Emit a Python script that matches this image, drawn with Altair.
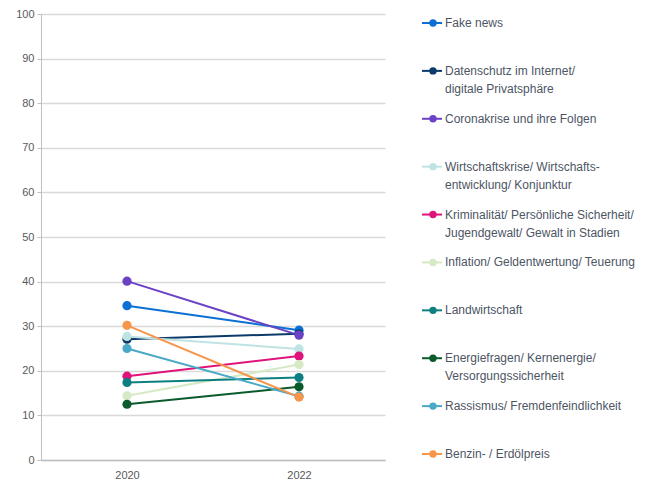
import altair as alt
import pandas as pd

years = ["2020", "2022"]
series = [
    "Fake news",
    "Datenschutz im Internet/ digitale Privatsphäre",
    "Coronakrise und ihre Folgen",
    "Wirtschaftskrise/ Wirtschaftsentwicklung/ Konjunktur",
    "Kriminalität/ Persönliche Sicherheit/ Jugendgewalt/ Gewalt in Stadien",
    "Inflation/ Geldentwertung/ Teuerung",
    "Landwirtschaft",
    "Energiefragen/ Kernenergie/ Versorgungssicherheit",
    "Rassismus/ Fremdenfeindlichkeit",
    "Benzin- / Erdölpreis",
]
label_line1 = [
    "Fake news",
    "Datenschutz im Internet/",
    "Coronakrise und ihre Folgen",
    "Wirtschaftskrise/ Wirtschafts-",
    "Kriminalität/ Persönliche Sicherheit/",
    "Inflation/ Geldentwertung/  Teuerung",
    "Landwirtschaft",
    "Energiefragen/ Kernenergie/",
    "Rassismus/ Fremdenfeindlichkeit",
    "Benzin- / Erdölpreis",
]
label_line2 = [
    "",
    "digitale Privatsphäre",
    "",
    "entwicklung/ Konjunktur",
    "Jugendgewalt/ Gewalt in Stadien",
    "",
    "",
    "Versorgungssicherheit",
    "",
    "",
]
values_2020 = [34.6, 27.1, 40.1, 27.7, 18.8, 14.4, 17.4, 12.5, 25.0, 30.2]
values_2022 = [29.1, 28.3, 28.0, 24.9, 23.3, 21.4, 18.5, 16.4, 14.3, 14.1]
colors = [
    "#0b6fd4", "#0c3a6b", "#6b42c6", "#bfe3e2", "#e0137a",
    "#d5eac4", "#0e7f80", "#0b5a2c", "#4aa9c6", "#f7954a",
]

rows = []
for i, s in enumerate(series):
    rows.append({"series": s, "year": years[0], "value": values_2020[i], "idx": i})
    rows.append({"series": s, "year": years[1], "value": values_2022[i], "idx": i})
df = pd.DataFrame(rows)

leg = pd.DataFrame({"series": series, "l1": label_line1, "l2": label_line2,
                    "idx": list(range(len(series)))})

FONT = "Liberation Sans"
color_scale = alt.Scale(domain=series, range=colors)

base = alt.Chart(df).encode(
    x=alt.X("year:O", scale=alt.Scale(type="point", padding=0.5),
            axis=alt.Axis(title=None, labelAngle=0, ticks=False, domainColor="#bfbfbf",
                          domainWidth=1.5, labelColor="#595959", labelFontSize=11,
                          labelFont=FONT, labelPadding=9, grid=False)),
    y=alt.Y("value:Q", scale=alt.Scale(domain=[0, 100], nice=False),
            axis=alt.Axis(title=None, values=list(range(0, 101, 10)), gridColor="#d9d9d9",
                          gridWidth=1.5, domainColor="#bfbfbf", tickColor="#bfbfbf",
                          tickSize=4, labelColor="#595959", labelFontSize=11,
                          labelFont=FONT, labelPadding=3)),
    color=alt.Color("series:N", scale=color_scale, legend=None),
    order=alt.Order("idx:Q"),
)

lines = base.mark_line(strokeWidth=2)
points = base.mark_circle(size=85, opacity=1)
main = alt.layer(lines, points).properties(width=344, height=446)

ly = alt.Y("series:N", sort=series,
           scale=alt.Scale(type="point", range=[9, 440], padding=0), axis=None)
lbase = alt.Chart(leg)
lrule = lbase.mark_rule(strokeWidth=2).encode(
    x=alt.value(7), x2=alt.value(27), y=ly,
    color=alt.Color("series:N", scale=color_scale, legend=None))
ldot = lbase.mark_circle(size=55, opacity=1).encode(
    x=alt.value(18), y=ly,
    color=alt.Color("series:N", scale=color_scale, legend=None))
ltext1 = lbase.mark_text(align="left", baseline="middle", font=FONT, fontSize=12,
                         color="#4d5564").encode(x=alt.value(30), y=ly, text="l1:N")
ltext2 = lbase.mark_text(align="left", baseline="middle", font=FONT, fontSize=12,
                         color="#4d5564", dy=18).encode(x=alt.value(30), y=ly, text="l2:N")
legend = alt.layer(lrule, ldot, ltext1, ltext2).properties(width=200, height=446)

chart = alt.hconcat(main, legend, spacing=30).configure_view(stroke=None).properties(
    padding={"left": 7, "top": 0, "right": 0, "bottom": 0})

chart.save("out.html", embed_options={"renderer": "svg", "actions": False})
